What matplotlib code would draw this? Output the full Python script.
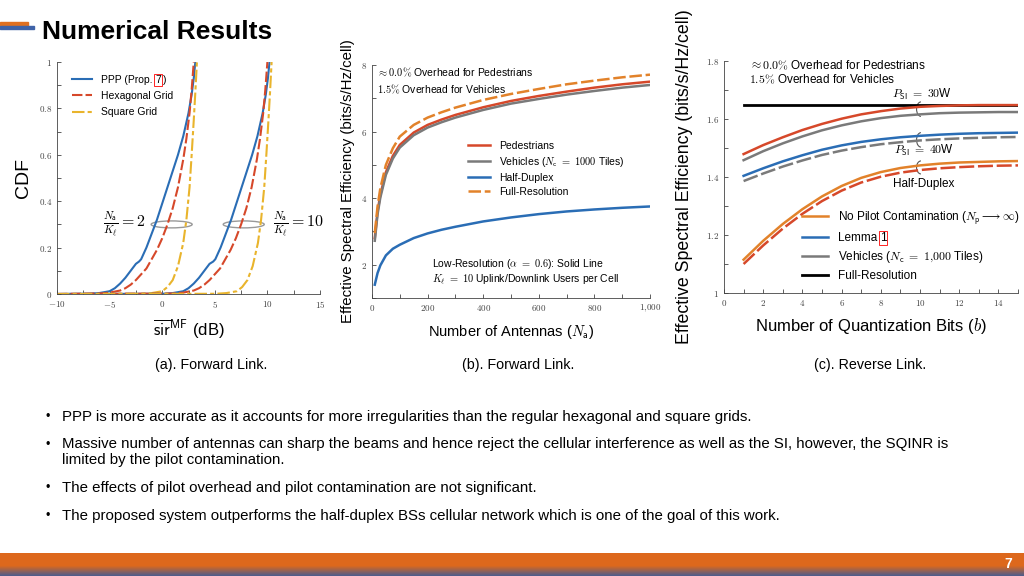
import matplotlib
matplotlib.use('Agg')
import matplotlib.pyplot as plt
from matplotlib.patches import Ellipse, Arc, Rectangle
import numpy as np

plt.rcParams['font.family'] = ['Liberation Sans', 'DejaVu Sans']
plt.rcParams['mathtext.fontset'] = 'cm'

BLUE = '#2a6db5'
RED = '#d6482a'
YELLOW = '#e9b42c'
GRAY = '#7a7a7a'
ORANGE = '#e2822a'

# ---- (a) CDF of sir, forward link ----
# N_a/K_l = 2
ppp2_x = [-10, -7, -6, -5, -4.5, -4, -3.5, -3, -2.5, -2.2, -2.0, -1.5, -1, -0.5, 0, 0.5, 1, 1.5, 2, 2.5, 2.8, 3.0, 3.15]
ppp2_y = [0, 0.001, 0.004, 0.012, 0.025, 0.045, 0.07, 0.1, 0.13, 0.14, 0.15, 0.2, 0.26, 0.32, 0.39, 0.46, 0.53, 0.6, 0.68, 0.78, 0.86, 0.93, 1.0]
hex2_x = [-10, -6, -5, -4, -3.5, -3, -2.5, -2, -1.5, -1, -0.5, 0, 0.5, 1, 1.5, 2, 2.3, 2.6, 2.8, 3.0]
hex2_y = [0, 0.002, 0.006, 0.015, 0.025, 0.04, 0.06, 0.085, 0.11, 0.15, 0.19, 0.24, 0.3, 0.37, 0.46, 0.58, 0.67, 0.78, 0.88, 1.0]
sq2_x = [-10, -2, -1, 0, 0.5, 1.0, 1.5, 2.0, 2.3, 2.6, 2.8, 3.0, 3.15, 3.3]
sq2_y = [0, 0.001, 0.004, 0.012, 0.03, 0.06, 0.12, 0.22, 0.32, 0.46, 0.6, 0.75, 0.87, 1.0]
# N_a/K_l = 10
ppp10_x = [-10, 0, 1, 2, 2.5, 3, 3.5, 4, 4.5, 4.85, 5.05, 5.55, 6.05, 6.55, 7.05, 7.55, 8.05, 8.55, 9.05, 9.55, 9.85, 10.05, 10.2]
ppp10_y = ppp2_y
hex10_x = [-10, 1, 2, 3, 3.5, 4, 4.5, 5, 5.5, 6, 6.5, 7, 7.5, 8, 8.5, 9, 9.3, 9.6, 9.8, 10.0]
hex10_y = hex2_y
sq10_x = [-10, 5.1, 6.1, 7.1, 7.6, 8.1, 8.6, 9.1, 9.4, 9.7, 9.9, 10.1, 10.25, 10.4]
sq10_y = sq2_y

a_xticks = [-10, -5, 0, 5, 10, 15]
a_xlabels = [r'$-10$', r'$-5$', r'$0$', r'$5$', r'$10$', r'$15$']
a_yticks = [0, 0.2, 0.4, 0.6, 0.8, 1]
a_ylabels = [r'$0$', r'$0.2$', r'$0.4$', r'$0.6$', r'$0.8$', r'$1$']

# ---- (b) spectral efficiency vs antennas ----
antennas = [10, 20, 30, 50, 75, 100, 150, 200, 250, 300, 400, 500, 600, 700, 800, 900, 1000]
b_full = [2.95, 3.75, 4.3, 5.0, 5.5, 5.85, 6.2, 6.42, 6.58, 6.72, 6.95, 7.13, 7.28, 7.42, 7.53, 7.63, 7.71]
b_ped = [2.8, 3.6, 4.1, 4.78, 5.27, 5.6, 5.97, 6.2, 6.36, 6.5, 6.73, 6.92, 7.07, 7.2, 7.32, 7.42, 7.5]
b_veh = [2.72, 3.52, 4.02, 4.7, 5.19, 5.52, 5.89, 6.12, 6.28, 6.42, 6.65, 6.84, 6.98, 7.11, 7.22, 7.32, 7.4]
b_half = [1.4, 1.75, 1.98, 2.28, 2.48, 2.6, 2.8, 2.94, 3.05, 3.14, 3.3, 3.42, 3.52, 3.6, 3.66, 3.71, 3.75]
b_xticks = [0, 200, 400, 600, 800, 1000]
b_xlabels = [r'$0$', r'$200$', r'$400$', r'$600$', r'$800$', r'$1{,}000$']
b_yticks = [2, 4, 6, 8]
b_ylabels = [r'$2$', r'$4$', r'$6$', r'$8$']

# ---- (c) spectral efficiency vs quantization bits ----
bits = [1, 2, 3, 4, 5, 6, 7, 8, 9, 10, 11, 12, 13, 14, 15]
c_nopilot_30 = [1.479, 1.51, 1.537, 1.562, 1.583, 1.601, 1.616, 1.627, 1.636, 1.642, 1.645, 1.647, 1.648, 1.648, 1.648]
c_veh_30 = [1.458, 1.489, 1.516, 1.54, 1.561, 1.578, 1.592, 1.603, 1.611, 1.616, 1.62, 1.622, 1.623, 1.624, 1.624]
c_lemma_40 = [1.404, 1.43, 1.454, 1.475, 1.494, 1.509, 1.521, 1.53, 1.537, 1.542, 1.546, 1.549, 1.551, 1.552, 1.553]
c_veh_40 = [1.386, 1.412, 1.436, 1.457, 1.476, 1.491, 1.503, 1.513, 1.52, 1.526, 1.53, 1.533, 1.535, 1.537, 1.538]
c_nopilot_hd = [1.115, 1.18, 1.238, 1.289, 1.333, 1.369, 1.397, 1.417, 1.431, 1.44, 1.446, 1.45, 1.452, 1.454, 1.455]
c_veh_hd = [1.1, 1.164, 1.222, 1.273, 1.317, 1.353, 1.381, 1.401, 1.415, 1.424, 1.43, 1.434, 1.437, 1.439, 1.44]
c_full_x = [1, 15]
c_full = [1.647, 1.647]
c_xticks = [0, 2, 4, 6, 8, 10, 12, 14]
c_xlabels = [r'$%d$' % t for t in c_xticks]
c_yticks = [1, 1.2, 1.4, 1.6, 1.8]
c_ylabels = [r'$1$', r'$1.2$', r'$1.4$', r'$1.6$', r'$1.8$']

captions = ['(a). Forward Link.', '(b). Forward Link.', '(c). Reverse Link.']
bullets = [
    'PPP is more accurate as it accounts for more irregularities than the regular hexagonal and square grids.',
    'Massive number of antennas can sharp the beams and hence reject the cellular interference as well as the SI, however, the SQINR is\nlimited by the pilot contamination.',
    'The effects of pilot overhead and pilot contamination are not significant.',
    'The proposed system outperforms the half-duplex BSs cellular network which is one of the goal of this work.',
]

W, H = 1024, 576
fig = plt.figure(figsize=(W / 100, H / 100), dpi=100)


def fx(px):
    return px / W


def fy(py):
    return 1 - py / H


def style_axes(ax):
    for s in ['top', 'right']:
        ax.spines[s].set_visible(False)
    for s in ['left', 'bottom']:
        ax.spines[s].set_linewidth(0.6)
        ax.spines[s].set_color('#444444')
    ax.tick_params(which='both', direction='in', labelsize=6.5, width=0.6, length=3, colors='#444444')


# panel a
ax = fig.add_axes([fx(57), fy(294), fx(263), 232 / H])
ax.plot(ppp2_x, ppp2_y, color=BLUE, lw=1.5, label='PPP (Prop.')
ax.plot(hex2_x, hex2_y, color=RED, lw=1.5, ls=(0, (5, 1.5)), label='Hexagonal Grid')
ax.plot(sq2_x, sq2_y, color=YELLOW, lw=1.5, ls=(0, (6, 1.5, 2, 1.5)), label='Square Grid')
ax.plot(ppp10_x, ppp10_y, color=BLUE, lw=1.5)
ax.plot(hex10_x, hex10_y, color=RED, lw=1.5, ls=(0, (5, 1.5)))
ax.plot(sq10_x, sq10_y, color=YELLOW, lw=1.5, ls=(0, (6, 1.5, 2, 1.5)))
ax.add_patch(Ellipse((0.9, 0.3), 3.9, 0.03, fill=False, ec='#999999', lw=1))
ax.add_patch(Ellipse((7.75, 0.3), 3.9, 0.03, fill=False, ec='#999999', lw=1))
ax.text(-1.6, 0.3, r'$\frac{N_\mathsf{a}}{K_\ell}=2$', ha='right', va='center', fontsize=11.5)
ax.text(10.5, 0.3, r'$\frac{N_\mathsf{a}}{K_\ell}=10$', ha='left', va='center', fontsize=11.5)
ax.set_xlim(-10, 15)
ax.set_ylim(0, 1)
ax.set_xticks(a_xticks, a_xlabels)
ax.set_xticks(np.arange(-10, 15.1, 2.5), minor=True)
ax.set_yticks(a_yticks, a_ylabels)
ax.set_yticks(np.arange(0, 1.01, 0.1), minor=True)
style_axes(ax)
ax.set_ylabel('CDF', fontsize=14, labelpad=5)
ax.set_xlabel(r'$\overline{\mathsf{sir}}^{\mathsf{MF}}$ (dB)', fontsize=12, labelpad=6)
leg_a = ax.legend(loc='upper left', bbox_to_anchor=(0.02, 0.985), frameon=False, fontsize=7.5,
                  handlelength=2.0, labelspacing=0.6)

# panel b
ax = fig.add_axes([fx(372), fy(298), fx(278), 233 / H])
ax.plot(antennas, b_ped, color=RED, lw=1.8, label='Pedestrians')
ax.plot(antennas, b_veh, color=GRAY, lw=1.8, label=r'Vehicles ($N_\mathsf{c}$ $=$ $1000$ Tiles)')
ax.plot(antennas, b_half, color=BLUE, lw=1.8, label='Half-Duplex')
ax.plot(antennas, b_full, color=ORANGE, lw=1.8, ls=(0, (5, 1.5)), label='Full-Resolution')
ax.set_xlim(0, 1000)
ax.set_ylim(1, 8)
ax.set_xticks(b_xticks, b_xlabels)
ax.set_xticks(np.arange(0, 1001, 100), minor=True)
ax.set_yticks(b_yticks, b_ylabels)
ax.set_yticks([1, 3, 5, 7], minor=True)
style_axes(ax)
ax.text(18, 7.78, r'$\approx 0.0\%$ Overhead for Pedestrians', fontsize=7.5, va='center')
ax.text(18, 7.28, r'$1.5\%$ Overhead for Vehicles', fontsize=7.5, va='center')
ax.text(217, 2.02, r'Low-Resolution ($\alpha$ $=$ $0.6$): Solid Line', fontsize=7.5, va='center')
ax.text(217, 1.55, r'$K_\ell$ $=$ $10$ Uplink/Downlink Users per Cell', fontsize=7.5, va='center')
ax.legend(loc='upper left', bbox_to_anchor=(0.31, 0.715), frameon=False, fontsize=7.5,
          handlelength=2.2, labelspacing=0.38)
ax.set_ylabel('Effective Spectral Efficiency (bits/s/Hz/cell)', fontsize=10.8, labelpad=4)
ax.set_xlabel(r'Number of Antennas ($N_\mathsf{a}$)', fontsize=10.5, labelpad=6)

# panel c
ax = fig.add_axes([fx(724), fy(293), fx(294), 232 / H])
ax.plot(c_full_x, c_full, color='black', lw=2, label='Full-Resolution', zorder=2)
ax.plot(bits, c_nopilot_30, color=RED, lw=1.8)
ax.plot(bits, c_veh_30, color=GRAY, lw=1.8)
ax.plot(bits, c_lemma_40, color=BLUE, lw=1.8)
ax.plot(bits, c_veh_40, color=GRAY, lw=1.8, ls=(0, (6, 1.5)))
ax.plot(bits, c_nopilot_hd, color=ORANGE, lw=1.8)
ax.plot(bits, c_veh_hd, color=RED, lw=1.8, ls=(0, (6, 1.5)))
h1, = ax.plot([], [], color=ORANGE, lw=1.8, label=r'No Pilot Contamination ($N_\mathsf{p}\longrightarrow\infty$)')
h2, = ax.plot([], [], color=BLUE, lw=1.8, label='Lemma')
h3, = ax.plot([], [], color=GRAY, lw=1.8, label=r'Vehicles ($N_\mathsf{c}$ $=$ $1{,}000$ Tiles)')
h4 = ax.get_lines()[0]
for yc, hh in [(1.634, 0.05), (1.528, 0.05), (1.433, 0.045)]:
    ax.add_patch(Arc((10.05, yc), 0.45, hh, theta1=95, theta2=265, ec='#555555', lw=0.8))
ax.text(10.1, 1.683, r'$P_\mathsf{SI}$ $=$ $30$W', ha='center', va='center', fontsize=8.5)
ax.text(10.2, 1.493, r'$P_\mathsf{SI}$ $=$ $40$W', ha='center', va='center', fontsize=8.5)
ax.text(10.2, 1.375, 'Half-Duplex', ha='center', va='center', fontsize=8.5)
ax.text(1.3, 1.783, r'$\approx 0.0\%$ Overhead for Pedestrians', fontsize=8.5, va='center')
ax.text(1.3, 1.734, r'$1.5\%$ Overhead for Vehicles', fontsize=8.5, va='center')
ax.set_xlim(0, 15)
ax.set_ylim(1, 1.8)
ax.set_xticks(c_xticks, c_xlabels)
ax.set_xticks(np.arange(0, 15.1, 1), minor=True)
ax.set_yticks(c_yticks, c_ylabels)
ax.set_yticks(np.arange(1, 1.81, 0.1), minor=True)
style_axes(ax)
leg_c = ax.legend([h1, h2, h3, h4], [h1.get_label(), h2.get_label(), h3.get_label(), 'Full-Resolution'],
                  loc='lower right', bbox_to_anchor=(1.04, 0.0), frameon=False, fontsize=8.5,
                  handlelength=2.2, labelspacing=0.45)
ax.set_ylabel('Effective Spectral Efficiency (bits/s/Hz/cell)', fontsize=12.8, labelpad=9)
ax.set_xlabel(r'Number of Quantization Bits ($b$)', fontsize=12, labelpad=6)

# slide decorations
fig.patches.append(Rectangle((0, fy(26)), fx(28), 4.5 / H, transform=fig.transFigure, color='#e07020', zorder=5))
fig.patches.append(Rectangle((0, fy(28.5)), fx(34), 2.5 / H, transform=fig.transFigure, color='#3f63a8', zorder=5))
fig.text(fx(42), fy(32), 'Numerical Results', fontsize=19, fontweight='bold', va='center', ha='left')

for cx, cap in zip([211, 518, 870], captions):
    fig.text(fx(cx), fy(365), cap, fontsize=10.3, ha='center', va='center')

for by, b in zip([417, 445, 488, 516], bullets):
    fig.text(fx(45), fy(by), '\u2022', fontsize=9, ha='left', va='center')
    if '\n' in b:
        fig.text(fx(62), fy(by - 8), b, fontsize=10.8, ha='left', va='top', linespacing=1.2)
    else:
        fig.text(fx(62), fy(by), b, fontsize=10.8, ha='left', va='center')

bar = fig.add_axes([0, 0, 1, 23 / H])
grad = np.linspace(0, 1, 50)[:, None]
orange = np.array([0.87, 0.41, 0.11])
navy = np.array([0.30, 0.36, 0.55])
w = np.clip((grad - 0.55) / 0.45, 0, 1)
img = orange * (1 - w[..., None]) + navy * w[..., None]
img = np.repeat(img, 2, axis=1)
bar.imshow(img, aspect='auto', extent=[0, 1, 0, 1])
bar.set_axis_off()
fig.text(fx(1008), fy(564), '7', color='white', fontsize=10, fontweight='bold', ha='center', va='center')

# boxed reference numbers inside the legends, placed after layout
fig.canvas.draw()
renderer = fig.canvas.get_renderer()


def boxed_after(text_artist, s, size, tail=''):
    bb = text_artist.get_window_extent(renderer)
    ymid = (bb.y0 + bb.y1) / 2
    t = fig.text((bb.x1 + 3) / W, ymid / H, s, fontsize=size, ha='left', va='center',
                 bbox=dict(boxstyle='square,pad=0.08', fc='none', ec='red', lw=0.6))
    if tail:
        fig.canvas.draw()
        b2 = t.get_window_extent(renderer)
        fig.text((b2.x1 + 2) / W, ymid / H, tail, fontsize=size, ha='left', va='center')


boxed_after(leg_a.get_texts()[0], '7', 7.5, ')')
boxed_after(leg_c.get_texts()[1], '1', 8.5)

fig.savefig('out.png', dpi=100)
